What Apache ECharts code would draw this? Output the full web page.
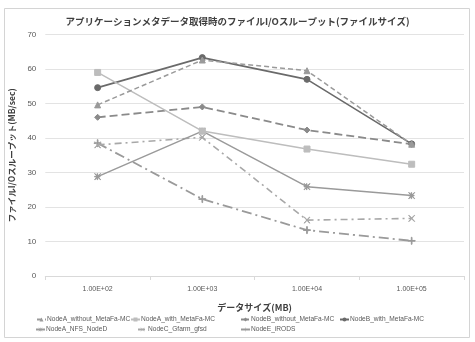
<!DOCTYPE html>
<html><head><meta charset="utf-8">
<script src="https://cdn.jsdelivr.net/npm/echarts@6/dist/echarts.min.js"></script>
<style>html,body{margin:0;padding:0;background:#fff}#c{width:475px;height:342px}</style>
</head><body><div id="c"></div>
<script>
const categories = ['1.00E+02','1.00E+03','1.00E+04','1.00E+05'];
const seriesNames = ['NodeA_without_MetaFa-MC','NodeA_with_MetaFa-MC','NodeB_without_MetaFa-MC','NodeB_with_MetaFa-MC','NodeA_NFS_NodeD','NodeC_Gfarm_gfsd','NodeE_iRODS'];
const nodeAWithout = [49.6, 62.6, 59.5, 38.2];
const nodeAWith    = [59.0, 42.0, 36.8, 32.4];
const nodeBWithout = [46.0, 49.0, 42.3, 38.2];
const nodeBWith    = [54.6, 63.3, 57.0, 38.3];
const nodeANFS     = [28.8, 42.0, 25.9, 23.3];
const nodeCGfarm   = [38.0, 40.2, 16.2, 16.7];
const nodeEiRODS   = [38.5, 22.3, 13.3, 10.2];
const yTicks = {min:0, max:70, interval:10};

const X = 'path://M0,0L1,0L11,10L10,10ZM10,0L11,0L1,10L0,10Z';
const PLUS = 'path://M4.5,0H5.5V10H4.5ZM0,4.5H10V5.5H0Z';
const STAR = 'path://M4.5,0H5.5V10H4.5ZM0,0L1,0L11,10L10,10ZM10,0L11,0L1,10L0,10ZM0,4.5H10V5.5H0Z';

const styles = [
  {data:nodeAWithout, color:'#9a9a9a', type:[5,3], width:1.5, symbol:'triangle', size:6},
  {data:nodeAWith, color:'#bdbdbd', type:'solid', width:1.5, symbol:'rect', size:6},
  {data:nodeBWithout, color:'#8a8a8a', type:[8,4], width:1.8, symbol:'diamond', size:6},
  {data:nodeBWith, color:'#6a6a6a', type:'solid', width:1.6, symbol:'circle', size:6},
  {data:nodeANFS, color:'#9a9a9a', type:'solid', width:1.5, symbol:STAR, size:6},
  {data:nodeCGfarm, color:'#a8a8a8', type:[7,4,2,4], width:1.6, symbol:X, size:6},
  {data:nodeEiRODS, color:'#9a9a9a', type:[10,4,2,4], width:1.8, symbol:PLUS, size:7}
];

const series = styles.map((s,i)=>({
  name: seriesNames[i], type:'line', data:s.data,
  symbol:s.symbol, symbolSize:s.size, showSymbol:true,
  itemStyle:{color:s.color, borderColor:s.color},
  lineStyle:{color:s.color, type:s.type, width:s.width},
  emphasis:{disabled:true}, animation:false, z: 10-i
}));

const legendPos = [[36,316],[130,316],[240,316],[339,316],[35,326],[137,326],[240,326]];
const legends = seriesNames.map((n,i)=>({
  data:[n], left:legendPos[i][0], top:legendPos[i][1], itemWidth:9, itemHeight:5, itemGap:2,
  textStyle:{fontSize:6.6, color:'#595959', fontFamily:'Liberation Sans, Arial, sans-serif', padding:[0,0,0,-4]},
  padding:0, selectedMode:false
}));

const chart = echarts.init(document.getElementById('c'), null, {renderer:'canvas'});
chart.setOption({
  backgroundColor:'#fff',
  animation:false,
  title:{text:'アプリケーションメタデータ取得時のファイルI/Oスループット(ファイルサイズ)', left:'center', top:12,
    textStyle:{fontSize:9.5, fontWeight:'bold', color:'#404040', fontFamily:'Noto Sans CJK JP'}},
  graphic:[{type:'rect', shape:{x:4.5,y:8.5,width:465,height:329}, style:{fill:'none', stroke:'#d4d4d4', lineWidth:1}, silent:true}],
  legend: legends,
  grid:{left:42, right:11, top:34.5, bottom:66, containLabel:false},
  xAxis:{type:'category', data:categories, boundaryGap:true,
    name:'データサイズ(MB)', nameLocation:'middle', nameGap:27,
    nameTextStyle:{fontSize:9, fontWeight:'bold', color:'#404040', fontFamily:'Noto Sans CJK JP'},
    axisLine:{lineStyle:{color:'#d9d9d9'}}, axisTick:{show:true, length:4, lineStyle:{color:'#d9d9d9'}},
    axisLabel:{fontSize:7, color:'#595959', margin:10, fontFamily:'Liberation Sans, Arial'}},
  yAxis:{type:'value', min:yTicks.min, max:yTicks.max, interval:yTicks.interval,
    name:'ファイルI/Oスループット(MB/sec)', nameLocation:'middle', nameGap:26, nameRotate:90,
    nameTextStyle:{fontSize:8.5, fontWeight:'bold', color:'#404040', fontFamily:'Noto Sans CJK JP'},
    axisLine:{show:false}, axisTick:{show:false},
    splitLine:{lineStyle:{color:'#e3e3e3'}},
    axisLabel:{fontSize:8, color:'#595959', margin:9, fontFamily:'Liberation Sans, Arial'}},
  series: series
});
</script></body></html>
